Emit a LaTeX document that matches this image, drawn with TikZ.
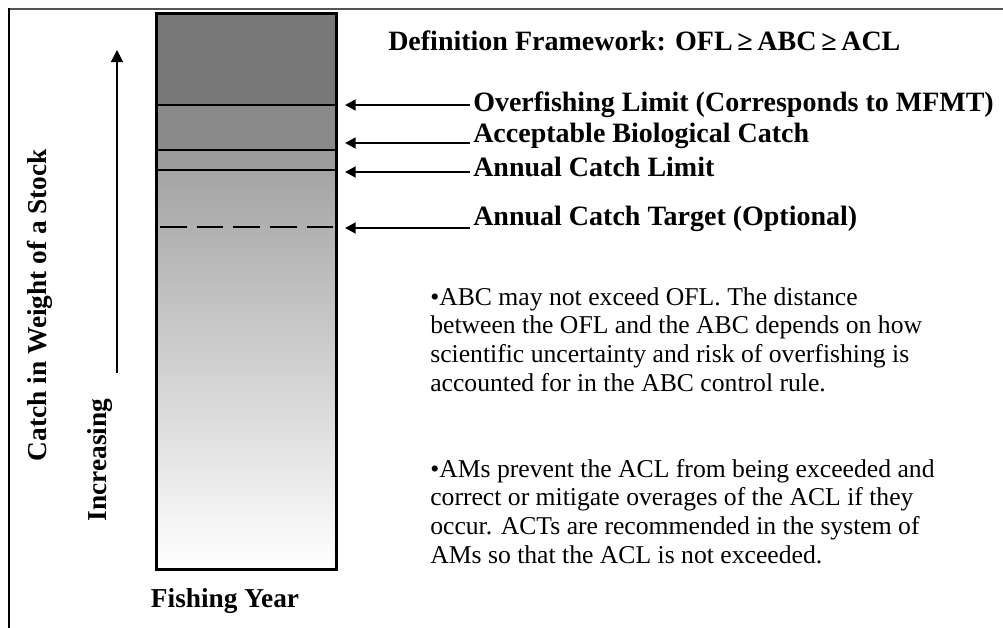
\documentclass[tikz,border=0pt]{standalone}
\usepackage{fontspec}
\setmainfont{Liberation Serif}
\usetikzlibrary{arrows.meta}
\definecolor{bandA}{HTML}{787878}
\definecolor{bandB}{HTML}{8A8A8A}
\definecolor{bandC}{HTML}{9C9C9C}
\definecolor{bandD}{HTML}{A4A4A4}
\definecolor{framegray}{HTML}{555555}
\begin{document}
\begin{tikzpicture}[x=0.75pt,y=-0.75pt,
  lbl/.style={font=\fontsize{21}{25}\selectfont\bfseries, inner sep=0pt, anchor=base west},
  axl/.style={font=\fontsize{20.5}{24}\selectfont\bfseries, inner sep=0pt},
  body/.style={font=\fontsize{19.25}{21.4}\selectfont, inner sep=0pt, align=left, anchor=base west},
  ptr/.style={line width=2.2pt, -{Triangle[length=8pt,width=8pt]}},
  lvl/.style={line width=2.2pt},
]
\useasboundingbox (0,0) rectangle (1003,628);
% frame
\draw[line width=1.2pt, framegray] (9,9) -- (1003,9);
\draw[line width=2.2pt] (9,8) -- (9,628);
% bar fill
\fill[bandA] (155,12) rectangle (335,105);
\fill[bandB] (155,105) rectangle (335,150);
\fill[bandC] (155,150) rectangle (335,170);
\shade[top color=bandD, bottom color=white] (155,170) rectangle (335,568);
\node[draw, line width=2pt, minimum width=135pt, minimum height=417pt, inner sep=0pt, anchor=north west] (bar) at (155,12) {};
% level lines
\draw[lvl] (155,105) -- (335,105);
\draw[lvl] (155,150) -- (335,150);
\draw[lvl] (155,170) -- (335,170);
\draw[line width=1.8pt, dash pattern=on 20pt off 7.5pt] (160,227) -- (335,227);
% labels
\node[lbl] (title) at (388,50) {Definition Framework: OFL\,≥\,ABC\,≥\,ACL};
\node[lbl] (ofl) at (473,111) {Overfishing Limit (Corresponds to MFMT)};
\node[lbl] (abc) at (473,142) {Acceptable Biological Catch};
\node[lbl] (acl) at (473,176) {Annual Catch Limit};
\node[lbl] (act) at (473,225) {Annual Catch Target (Optional)};
% arrows
\coordinate (s1) at (470,105); \coordinate (e1) at (345,105);
\coordinate (s2) at (470,143); \coordinate (e2) at (345,143);
\coordinate (s3) at (470,172); \coordinate (e3) at (345,172);
\coordinate (s4) at (470,228); \coordinate (e4) at (345,228);
\draw[ptr] (s1) -- (e1);
\draw[ptr] (s2) -- (e2);
\draw[ptr] (s3) -- (e3);
\draw[ptr] (s4) -- (e4);
% axis
\coordinate (u0) at (117,373); \coordinate (u1) at (117,50);
\draw[line width=0.9pt, -{Triangle[length=9pt,width=9pt]}] (u0) -- (u1);
\node[axl, rotate=90, anchor=base] (ylab) at (46,305) {Catch in Weight of a Stock};
\node[axl, rotate=90, anchor=base] (inc) at (106,460) {Increasing};
\node[axl, anchor=base] (fy) at (225,607) {Fishing Year};
% body text
\node[body] (p1) at (430,391) {•ABC may not exceed OFL. The distance\\between the OFL and the ABC depends on how\\scientific uncertainty and risk of overfishing is\\accounted for in the ABC control rule.};
\node[body] (p2) at (430,563) {•AMs prevent the ACL from being exceeded and\\correct or mitigate overages of the ACL if they\\occur. ACTs are recommended in the system of\\AMs so that the ACL is not exceeded.};
\end{tikzpicture}
\end{document}
